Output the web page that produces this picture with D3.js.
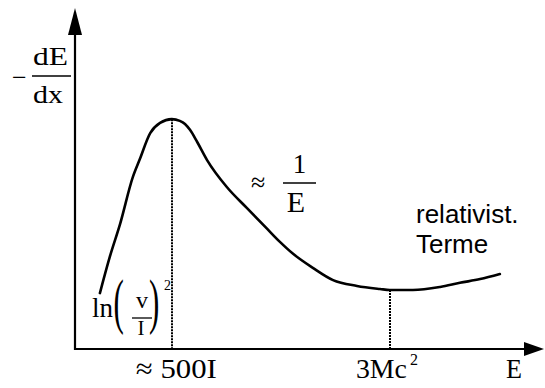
<!DOCTYPE html>
<html>
<head>
<meta charset="utf-8">
<script src="https://cdn.jsdelivr.net/npm/d3@7"></script>
<style>
  html, body { margin: 0; padding: 0; background: #fff; }
  svg { display: block; }
  .serif { font-family: "Liberation Serif", "Times New Roman", serif; fill: #000; }
  .sans { font-family: "Liberation Sans", Arial, sans-serif; fill: #000; }
</style>
</head>
<body>
<svg id="chart" width="545" height="388"></svg>
<script>
// Schematic stopping-power curve -dE/dx versus E (arbitrary units 0..100)
const energy = [5.3, 7.4, 9.6, 12.3, 13.8, 16.0, 18.1, 20.6, 22.3, 23.4, 24.5, 26.0, 28.1,
                32.3, 36.6, 40.9, 43.6, 46.4, 50.6, 54.9, 60.0, 64.9, 67.0, 71.9, 77.7,
                81.9, 86.2, 90.4];
const loss   = [16.4, 27.0, 36.7, 50.4, 55.7, 63.3, 66.3, 67.4, 66.9, 66.0, 64.2, 60.7, 55.4,
                47.5, 41.3, 35.2, 31.4, 27.9, 23.8, 20.2, 18.5, 17.6, 17.3, 17.3, 18.2,
                19.4, 20.5, 22.0];

// Marked points: maximum and minimum of the energy loss
const markE    = [20.6, 67.0];
const markLoss = [67.4, 17.3];
const markLabels = ["≈ 500I", "3Mc"];

const svg = d3.select("#chart");

const x = d3.scaleLinear().domain([0, 100]).range([75, 545]);
const y = d3.scaleLinear().domain([0, 100]).range([349, 8]);

const x0 = x(0), y0 = y(0);

// axes with arrow heads
svg.append("line")
  .attr("x1", x0).attr("y1", y0 + 1).attr("x2", x0).attr("y2", y(100) + 20)
  .attr("stroke", "#000").attr("stroke-width", 2.2);
svg.append("path")
  .attr("d", `M${x0},${y(100)} L${x0 - 7},${y(100) + 27} L${x0 + 7},${y(100) + 27} Z`)
  .attr("fill", "#000");

svg.append("line")
  .attr("x1", x0 - 1).attr("y1", y0).attr("x2", x(100) - 14).attr("y2", y0)
  .attr("stroke", "#000").attr("stroke-width", 2.2);
svg.append("path")
  .attr("d", `M${x(100) - 1},${y0} L${x(100) - 21},${y0 - 7} L${x(100) - 21},${y0 + 7} Z`)
  .attr("fill", "#000");

// dotted drop lines (snapped to the pixel grid so the dots stay crisp)
markE.forEach((e, i) => {
  const px = Math.round(x(e));
  svg.append("line")
    .attr("x1", px).attr("x2", px)
    .attr("y1", y(markLoss[i])).attr("y2", y0)
    .attr("stroke", "#000").attr("stroke-width", 2)
    .attr("stroke-dasharray", "2,1");
});

// the curve
const line = d3.line()
  .x((d, i) => x(energy[i]))
  .y(d => y(d))
  .curve(d3.curveMonotoneX);

svg.append("path")
  .attr("d", line(loss))
  .attr("fill", "none")
  .attr("stroke", "#000")
  .attr("stroke-width", 2.6)
  .attr("stroke-linejoin", "round")
  .attr("stroke-linecap", "round");

// y-axis title: - dE/dx
svg.append("text").attr("class", "serif").attr("x", 12).attr("y", 86)
  .attr("font-size", 26).text("−");
svg.append("text").attr("class", "serif").attr("x", 33).attr("y", 65)
  .attr("font-size", 26).attr("textLength", 35).attr("lengthAdjust", "spacingAndGlyphs").text("dE");
svg.append("line").attr("x1", 32).attr("x2", 71).attr("y1", 76).attr("y2", 76)
  .attr("stroke", "#000").attr("stroke-width", 1.5);
svg.append("text").attr("class", "serif").attr("x", 33).attr("y", 103)
  .attr("font-size", 26).attr("textLength", 30).attr("lengthAdjust", "spacingAndGlyphs").text("dx");

// x-axis labels
svg.append("text").attr("class", "serif").attr("x", x(markE[0]) - 36).attr("y", 378)
  .attr("font-size", 28).attr("textLength", 81).attr("lengthAdjust", "spacingAndGlyphs")
  .text(markLabels[0]);
svg.append("text").attr("class", "serif").attr("x", x(markE[1]) - 34).attr("y", 378)
  .attr("font-size", 28).attr("textLength", 51).attr("lengthAdjust", "spacingAndGlyphs")
  .text(markLabels[1]);
svg.append("text").attr("class", "serif").attr("x", x(markE[1]) + 20).attr("y", 365)
  .attr("font-size", 16).text("2");
svg.append("text").attr("class", "serif").attr("x", 506).attr("y", 378)
  .attr("font-size", 28).attr("textLength", 16).attr("lengthAdjust", "spacingAndGlyphs").text("E");

// ≈ 1/E annotation
svg.append("text").attr("class", "serif").attr("x", 251).attr("y", 191)
  .attr("font-size", 26).text("≈");
svg.append("text").attr("class", "serif").attr("x", 299.5).attr("y", 173)
  .attr("font-size", 27).attr("text-anchor", "middle").text("1");
svg.append("line").attr("x1", 283).attr("x2", 316).attr("y1", 183).attr("y2", 183)
  .attr("stroke", "#000").attr("stroke-width", 1.5);
svg.append("text").attr("class", "serif").attr("x", 296).attr("y", 212)
  .attr("font-size", 30).attr("text-anchor", "middle").text("E");

// ln(v/I)^2 annotation
svg.append("text").attr("class", "serif").attr("x", 92).attr("y", 317)
  .attr("font-size", 27).text("ln");
svg.append("text").attr("class", "serif")
  .attr("transform", "translate(113.5,322) scale(0.5,1)")
  .attr("font-size", 62).text("(");
svg.append("text").attr("class", "serif").attr("x", 142).attr("y", 308)
  .attr("font-size", 24).attr("text-anchor", "middle").text("v");
svg.append("line").attr("x1", 132).attr("x2", 152).attr("y1", 318).attr("y2", 318)
  .attr("stroke", "#000").attr("stroke-width", 1.3);
svg.append("text").attr("class", "serif").attr("x", 141).attr("y", 335)
  .attr("font-size", 21).attr("text-anchor", "middle").text("I");
svg.append("text").attr("class", "serif")
  .attr("transform", "translate(149,322) scale(0.5,1)")
  .attr("font-size", 62).text(")");
svg.append("text").attr("class", "serif").attr("x", 164).attr("y", 290)
  .attr("font-size", 14).text("2");

// relativistic rise label
svg.append("text").attr("class", "sans").attr("x", 416).attr("y", 223)
  .attr("font-size", 26).text("relativist.");
svg.append("text").attr("class", "sans").attr("x", 416).attr("y", 253)
  .attr("font-size", 26).text("Terme");
</script>
</body>
</html>
